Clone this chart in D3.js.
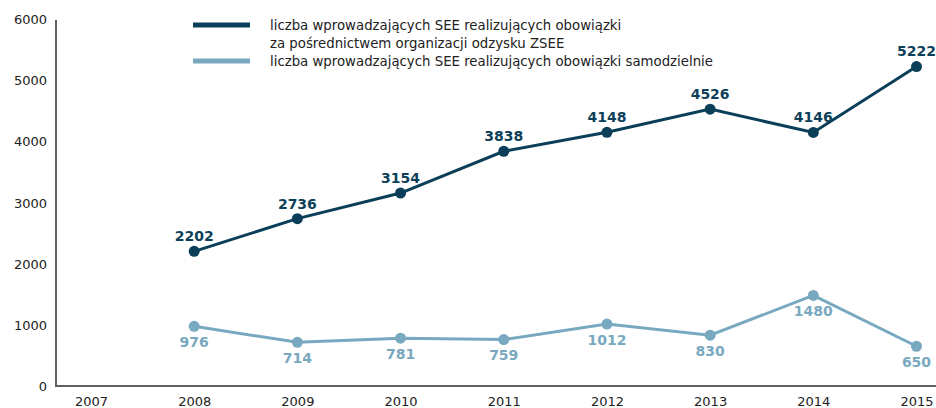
<!DOCTYPE html>
<html>
<head>
<meta charset="utf-8">
<script src="https://cdn.jsdelivr.net/npm/d3@7"></script>
<style>
  body { margin: 0; background: #fff; }
  svg text { font-family: "DejaVu Sans", sans-serif; }
</style>
</head>
<body>
<div id="chart"></div>
<script>
const years = ['2007', '2008', '2009', '2010', '2011', '2012', '2013', '2014', '2015'];
const dataYears = ['2008', '2009', '2010', '2011', '2012', '2013', '2014', '2015'];
const viaOrg = [2202, 2736, 3154, 3838, 4148, 4526, 4146, 5222];
const alone = [976, 714, 781, 759, 1012, 830, 1480, 650];
const yTicks = [0, 1000, 2000, 3000, 4000, 5000, 6000];
const legendLabels = [
  ['liczba wprowadzających SEE realizujących obowiązki', 'za pośrednictwem organizacji odzysku ZSEE'],
  ['liczba wprowadzających SEE realizujących obowiązki samodzielnie']
];

const width = 936;
const height = 408;
const darkColor = '#0b3f59';
const lightColor = '#79a9c0';

const svg = d3.select('#chart')
  .append('svg')
  .attr('width', width)
  .attr('height', height);

const xScale = d3.scalePoint()
  .domain(years)
  .range([91, 916.5]);

const yScale = d3.scaleLinear()
  .domain([0, 6000])
  .range([386, 19]);

// y axis
const yAxis = d3.axisLeft(yScale)
  .tickValues(yTicks)
  .tickSize(0)
  .tickPadding(9)
  .tickFormat(d3.format('d'));

const yG = svg.append('g')
  .attr('transform', 'translate(56, 0)')
  .call(yAxis);
yG.select('.domain').attr('stroke', '#606060').attr('stroke-width', 2)
  .attr('d', `M0,${yScale(6000) + 1}V${yScale(0)}`);
yG.selectAll('text').attr('font-size', 13).attr('fill', '#222').attr('dy', '0.35em');

// x axis
const xAxis = d3.axisBottom(xScale)
  .tickSize(0)
  .tickPadding(11);

const xG = svg.append('g')
  .attr('transform', `translate(0, ${yScale(0)})`)
  .call(xAxis);
xG.select('.domain').attr('stroke', '#606060').attr('stroke-width', 2)
  .attr('d', `M55,0H${width}`);
xG.selectAll('text').attr('font-size', 13).attr('fill', '#222');

function drawSeries(values, color, labelOffset) {
  const pts = dataYears.map((y, i) => ({ year: y, value: values[i] }));
  const line = d3.line()
    .x(d => xScale(d.year))
    .y(d => yScale(d.value));

  svg.append('path')
    .datum(pts)
    .attr('fill', 'none')
    .attr('stroke', color)
    .attr('stroke-width', 3)
    .attr('d', line);

  svg.selectAll(null)
    .data(pts)
    .enter()
    .append('circle')
    .attr('cx', d => xScale(d.year))
    .attr('cy', d => yScale(d.value))
    .attr('r', 5.5)
    .attr('fill', color);

  svg.selectAll(null)
    .data(pts)
    .enter()
    .append('text')
    .attr('x', d => xScale(d.year))
    .attr('y', d => yScale(d.value) + labelOffset)
    .attr('dy', '0.35em')
    .attr('text-anchor', 'middle')
    .attr('font-size', 14)
    .attr('font-weight', 'bold')
    .attr('fill', color)
    .text(d => d.value);
}

drawSeries(viaOrg, darkColor, -15);
drawSeries(alone, lightColor, 16);

// legend
const legend = svg.append('g');
const legendRows = [
  { color: darkColor, y: 25, lines: legendLabels[0] },
  { color: lightColor, y: 61, lines: legendLabels[1] }
];
legendRows.forEach(row => {
  legend.append('line')
    .attr('x1', 193).attr('x2', 250)
    .attr('y1', row.y).attr('y2', row.y)
    .attr('stroke', row.color)
    .attr('stroke-width', 5);
  row.lines.forEach((t, i) => {
    legend.append('text')
      .attr('x', 270)
      .attr('y', row.y + i * 18.5)
      .attr('dy', '0.35em')
      .attr('font-size', 13.3)
      .attr('fill', '#222')
      .text(t);
  });
});
</script>
</body>
</html>
